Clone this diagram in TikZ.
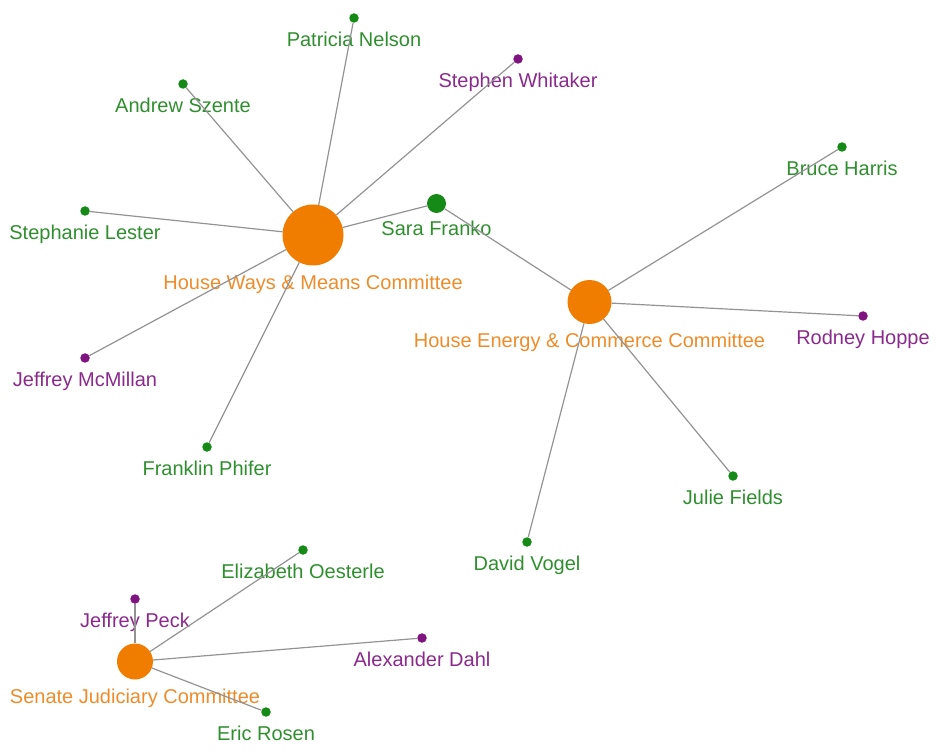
\documentclass[tikz,border=0pt]{standalone}
\usepackage{fontspec}
\setmainfont{Liberation Sans}
\usetikzlibrary{positioning}
\definecolor{netOrange}{HTML}{F07D00}
\definecolor{netOrangeText}{HTML}{EE8C2A}
\definecolor{netGreen}{HTML}{168A16}
\definecolor{netGreenText}{HTML}{2F8F2F}
\definecolor{netPurple}{HTML}{7F1480}
\definecolor{netPurpleText}{HTML}{8A2A8C}
\definecolor{netLink}{HTML}{939393}
\tikzset{
  every picture/.style={font=\fontsize{20}{23}\selectfont},
  net hub/.style={circle, fill=netOrange, inner sep=0pt},
  net person/.style={circle, inner sep=0pt, minimum size=9.5pt},
  net name/.style={inner sep=0pt, text height=14.5pt, text depth=4pt},
  net link/.style={draw=netLink, line width=1.2pt}
}
\begin{document}
\begin{tikzpicture}[x=1pt,y=-1pt]
  \useasboundingbox (0,0) rectangle (938,754);
  % committees
  \node[net hub, minimum size=61pt] (hwm) at (313,235) {};
  \node[net hub, minimum size=44pt] (hec) at (589.5,302) {};
  \node[net hub, minimum size=36pt] (sjc) at (135,661.5) {};
  \node[net name, text=netOrangeText, below=9.5pt of hwm] (hwm-name)
    {House Ways \& Means Committee};
  \node[net name, text=netOrangeText, below=9pt of hec] (hec-name)
    {House Energy \& Commerce Committee};
  \node[net name, text=netOrangeText, below=9pt of sjc] (sjc-name)
    {Senate Judiciary Committee};
  % people
  \node[net person, fill=netGreen, minimum size=19pt] (sf) at (436.5,203.5) {};
  \node[net name, text=netGreenText, below=8pt of sf] (sf-name) {Sara Franko};
  \foreach \n/\x/\y/\c/\t in {pn/354/18/Green/Patricia Nelson,
      sw/518/59/Purple/Stephen Whitaker, as/183/84/Green/Andrew Szente,
      sl/85/211/Green/Stephanie Lester, jm/85/358/Purple/Jeffrey McMillan,
      fp/207/447/Green/Franklin Phifer, bh/842/147/Green/Bruce Harris,
      rh/863/316/Purple/Rodney Hoppe, jf/733/476/Green/Julie Fields,
      dv/527/542/Green/David Vogel, eo/303/550/Green/Elizabeth Oesterle,
      jp/135/599/Purple/Jeffrey Peck, ad/422/638/Purple/Alexander Dahl,
      er/266/712/Green/Eric Rosen}{
    \node[net person, fill=net\c] (\n) at (\x,\y) {};
    \node[net name, text=net\c Text, below=9pt of \n] (\n-name) {\t};
  }
  % links
  \foreach \a/\b in {hwm/pn,hwm/sw,hwm/as,hwm/sl,hwm/jm,hwm/fp,hwm/sf,
      sf/hec,hec/bh,hec/rh,hec/jf,hec/dv,sjc/eo,sjc/jp,sjc/ad,sjc/er}
    \draw[net link] (\a) -- (\b);
\end{tikzpicture}
\end{document}
